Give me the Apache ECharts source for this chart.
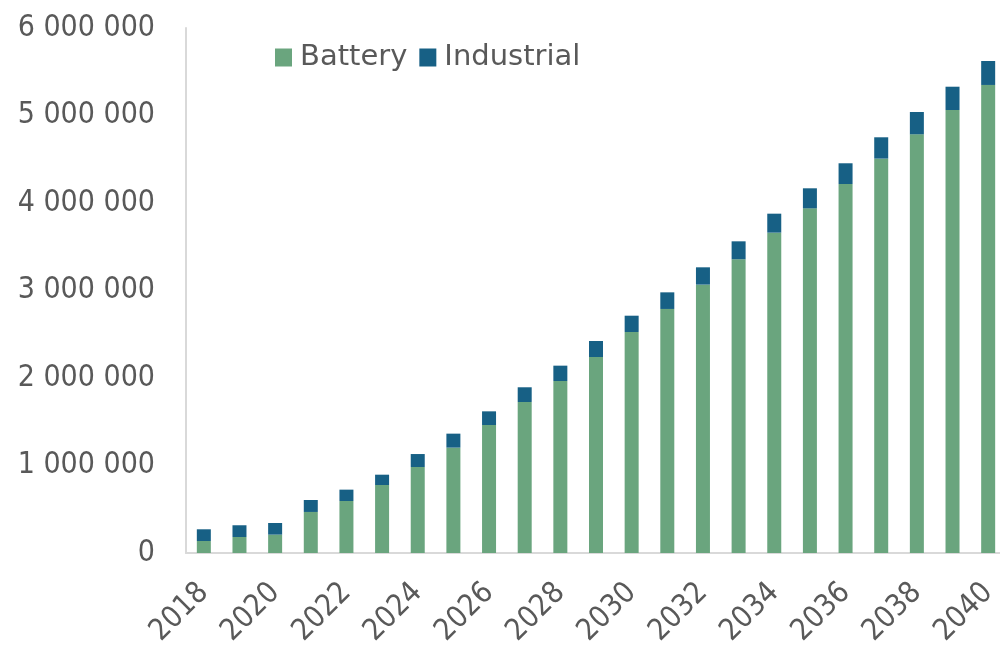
<!DOCTYPE html>
<html>
<head>
<meta charset="utf-8">
<script src="https://cdn.jsdelivr.net/npm/echarts@6/dist/echarts.min.js"></script>
<style>
  html, body { margin: 0; padding: 0; background: #fff; }
  #main { width: 1000px; height: 647px; }
</style>
</head>
<body>
<div id="main"></div>
<script>
var years = ["2018", "2019", "2020", "2021", "2022", "2023", "2024", "2025", "2026", "2027", "2028", "2029",
  "2030", "2031", "2032", "2033", "2034", "2035", "2036", "2037", "2038", "2039", "2040"];

var battery = [137000, 183000, 210000, 469000, 594000, 777000, 983000, 1204000, 1463000, 1726000, 1966000, 2240000,
  2526000, 2789000, 3067000, 3357000, 3661000, 3939000, 4217000, 4507000, 4785000, 5063000, 5349000];

var industrial = [134000, 134000, 133000, 137000, 130000, 118000, 148000, 160000, 156000, 168000, 175000, 183000,
  186000, 190000, 198000, 205000, 217000, 229000, 237000, 244000, 255000, 266000, 274000];

void (function() {
  var chart = echarts.init(document.getElementById("main"));

  var fmt = function(v) {
    return String(v).replace(/\B(?=(\d{3})+(?!\d))/g, " ");
  };

  var option = {
    backgroundColor: "#fff",
    textStyle: { fontFamily: "DejaVu Sans Condensed" },
    legend: {
      data: ["Battery", "Industrial"],
      left: 270,
      top: 38,
      icon: "rect",
      itemWidth: 17,
      itemHeight: 18,
      itemGap: 12,
      textStyle: {
        fontFamily: "DejaVu Sans",
        fontSize: 29,
        color: "#595959",
        padding: [0, 0, 0, 3]
      }
    },
    grid: {
      left: 186,
      right: -6,
      top: 28,
      bottom: 94,
      outerBoundsMode: "none"
    },
    xAxis: {
      type: "category",
      data: years,
      axisLine: { lineStyle: { color: "#d9d9d9", width: 2 } },
      axisTick: { show: false },
      axisLabel: {
        interval: 1,
        rotate: 45,
        fontSize: 30,
        color: "#595959",
        margin: 35
      }
    },
    yAxis: {
      type: "value",
      min: 0,
      max: 6000000,
      interval: 1000000,
      axisLine: { show: true, lineStyle: { color: "#d9d9d9", width: 2 } },
      axisTick: { show: false },
      splitLine: { show: false },
      axisLabel: {
        fontSize: 30,
        color: "#595959",
        margin: 31,
        formatter: fmt
      }
    },
    series: [
      {
        name: "Battery",
        type: "bar",
        stack: "total",
        data: battery,
        barWidth: 14,
        itemStyle: { color: "#6aa57e" }
      },
      {
        name: "Industrial",
        type: "bar",
        stack: "total",
        data: industrial,
        barWidth: 14,
        itemStyle: { color: "#176085" }
      }
    ]
  };

  chart.setOption(option);
})();
</script>
</body>
</html>
